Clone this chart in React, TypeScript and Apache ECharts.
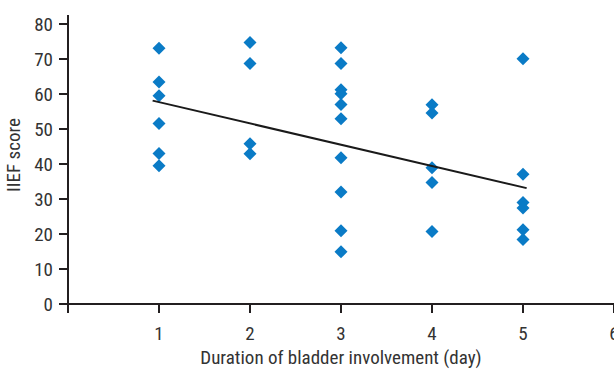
import React, { useEffect, useRef } from "react";
import * as echarts from "echarts";

const durations = [
  1, 1, 1, 1, 1, 1,
  2, 2, 2, 2,
  3, 3, 3, 3, 3, 3, 3, 3, 3, 3,
  4, 4, 4, 4, 4,
  5, 5, 5, 5, 5, 5,
];
const scores = [
  73.1, 63.4, 59.5, 51.6, 43.0, 39.5,
  74.7, 68.7, 45.8, 42.9,
  73.2, 68.7, 61.2, 60.1, 57.0, 52.9, 41.8, 32.0, 20.9, 14.9,
  56.9, 54.6, 38.9, 34.7, 20.7,
  70.1, 37.1, 29.0, 27.4, 21.2, 18.4,
];
const trendX = [0.93, 5.04];
const trendY = [58.1, 33.1];

const xMin = 0;
const xMax = 6;
const yMin = 0;
const yMax = 80;
const yStep = 10;

const FONT = "'Liberation Sans Narrow', 'Roboto Condensed', 'Roboto', sans-serif";
const AXIS = "#231f20";
const TEXT = "#333333";

export default function App() {
  const ref = useRef<HTMLDivElement>(null);
  useEffect(() => {
    if (!ref.current) return;
    const chart = echarts.init(ref.current, undefined, { renderer: "svg", width: 614, height: 369 });
    chart.setOption({
      animation: false,
      backgroundColor: "#ffffff",
      grid: {
        left: 68,
        right: 0,
        top: 24,
        bottom: 65,
        containLabel: false,
        outerBoundsMode: "none",
      },
      xAxis: {
        type: "value",
        min: xMin,
        max: xMax,
        interval: 1,
        name: "Duration of bladder involvement (day)",
        nameLocation: "middle",
        nameGap: 44,
        nameTextStyle: { fontFamily: FONT, fontSize: 19, color: TEXT },
        axisLine: { show: true, lineStyle: { color: AXIS, width: 2 } },
        axisTick: { show: true, length: 9, inside: false, lineStyle: { color: AXIS, width: 2 } },
        axisLabel: {
          fontFamily: FONT,
          fontSize: 19,
          color: TEXT,
          margin: 20,
          formatter: (v: number) => (v === 0 ? "" : String(v)),
        },
        splitLine: { show: false },
      },
      yAxis: {
        type: "value",
        min: yMin,
        max: yMax,
        interval: yStep,
        name: "IIEF score",
        nameLocation: "middle",
        nameGap: 41,
        nameTextStyle: { fontFamily: FONT, fontSize: 19, color: TEXT, padding: [0, 0, 0, 18] },
        axisLine: {
          show: true,
          lineStyle: { color: AXIS, width: 2 },
          symbol: ["none", "rect"],
          symbolSize: [2, 18],
        },
        axisTick: { show: true, length: 9, inside: false, lineStyle: { color: AXIS, width: 2 } },
        axisLabel: { fontFamily: FONT, fontSize: 19, color: TEXT, margin: 15 },
        splitLine: { show: false },
      },
      series: [
        {
          type: "scatter",
          data: durations.map((d, i) => [d, scores[i]]),
          symbol: "diamond",
          symbolSize: [13, 13],
          itemStyle: { color: "#0a7bc6", opacity: 1 },
          z: 2,
        },
        {
          type: "line",
          data: trendX.map((x, i) => [x, trendY[i]]),
          showSymbol: false,
          symbol: "none",
          lineStyle: { color: "#1a1a1a", width: 2 },
          z: 3,
        },
      ],
    });
    return () => chart.dispose();
  }, []);
  return (
    <div
      ref={ref}
      style={{ position: "fixed", left: 0, top: 0, width: 614, height: 369, overflow: "hidden" }}
    />
  );
}
